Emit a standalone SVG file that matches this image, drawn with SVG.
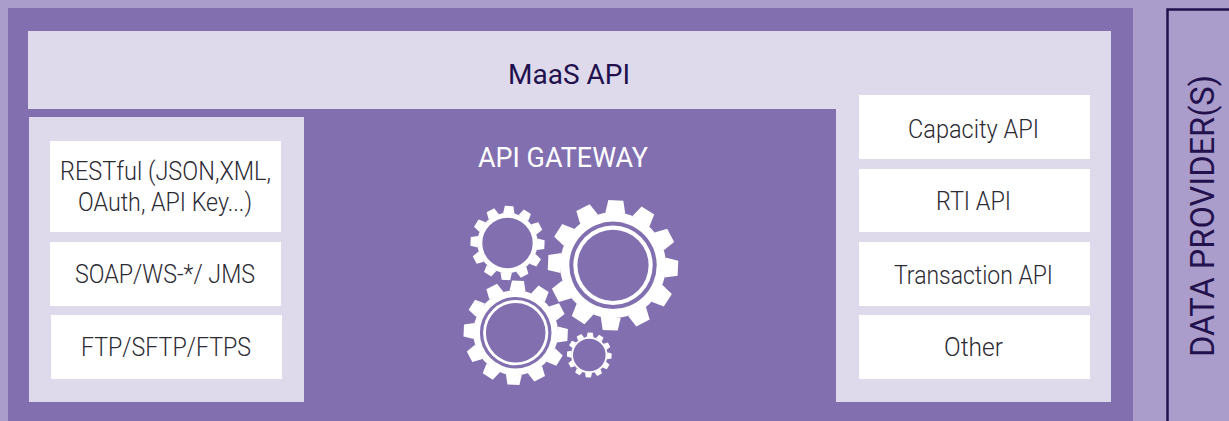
<svg xmlns="http://www.w3.org/2000/svg" width="1229" height="421" viewBox="0 0 1229 421">
<style>
text{font-family:Roboto,"Noto Sans","Liberation Sans",sans-serif;text-anchor:middle;font-size:25px;font-weight:300}
.t{fill:#2c2a33}.d{fill:#22114c;font-weight:400}.w{fill:#fff}.l{fill:#dedaec}.p{fill:#826fb0}
.g{font-weight:400}
</style>
<defs>
<polygon id="tooth" points="-10,-52 -7.500,-65 7.500,-65 10,-52"/>
<g id="gear" fill="#fff">
<circle r="53"/>
<use href="#tooth"/><use href="#tooth" transform="rotate(30)"/><use href="#tooth" transform="rotate(60)"/><use href="#tooth" transform="rotate(90)"/><use href="#tooth" transform="rotate(120)"/><use href="#tooth" transform="rotate(150)"/><use href="#tooth" transform="rotate(180)"/><use href="#tooth" transform="rotate(210)"/><use href="#tooth" transform="rotate(240)"/><use href="#tooth" transform="rotate(270)"/><use href="#tooth" transform="rotate(300)"/><use href="#tooth" transform="rotate(330)"/>
</g>
</defs>
<rect width="1229" height="421" fill="#aa9ccb"/>
<rect class="p" x="8" y="8" width="1125" height="413"/>
<path id="data-provider-frame" d="M1229 9.500H1167.500V421" fill="none" stroke="#22114c" stroke-width="2.500"/>
<g id="data-provider"><text class="d" transform="translate(1214 216) rotate(-90)" style="font-size:33px" textLength="282" lengthAdjust="spacingAndGlyphs">DATA PROVIDER(S)</text></g>
<g id="maas-api">
<path class="l" d="M28 31H1111V402H836V109H28Z"/>
<text class="d" x="569" y="84" style="font-size:28px" textLength="122" lengthAdjust="spacingAndGlyphs">MaaS API</text>
</g>
<g id="client-panel"><rect class="l" x="29" y="117" width="275" height="285"/></g>
<g id="restful"><rect class="w" x="50" y="141" width="231" height="91"/>
<text class="t" x="165.500" y="180" textLength="211" lengthAdjust="spacingAndGlyphs">RESTful (JSON,XML,</text>
<text class="t" x="165" y="211" textLength="174" lengthAdjust="spacingAndGlyphs">OAuth, API Key...)</text></g>
<g id="soap"><rect class="w" x="50" y="242" width="231" height="64"/>
<text class="t" x="165" y="283" textLength="180" lengthAdjust="spacingAndGlyphs">SOAP/WS-*/ JMS</text></g>
<g id="ftp"><rect class="w" x="51" y="315" width="231" height="64"/>
<text class="t" x="166" y="356" textLength="170" lengthAdjust="spacingAndGlyphs">FTP/SFTP/FTPS</text></g>
<g id="capacity-api"><rect class="w" x="859" y="95" width="231" height="64"/>
<text class="t" x="973.500" y="138" textLength="131" lengthAdjust="spacingAndGlyphs">Capacity API</text></g>
<g id="rti-api"><rect class="w" x="859" y="169" width="231" height="63"/>
<text class="t" x="973.500" y="210" textLength="75" lengthAdjust="spacingAndGlyphs">RTI API</text></g>
<g id="transaction-api"><rect class="w" x="859" y="242" width="231" height="64"/>
<text class="t" x="973.500" y="284" textLength="159" lengthAdjust="spacingAndGlyphs">Transaction API</text></g>
<g id="other"><rect class="w" x="859" y="315" width="231" height="64"/>
<text class="t" x="973.500" y="356" textLength="59" lengthAdjust="spacingAndGlyphs">Other</text></g>
<g id="api-gateway">
<text class="w g" x="563" y="167" style="font-size:27px" textLength="170" lengthAdjust="spacingAndGlyphs">API GATEWAY</text>
<use href="#gear" transform="translate(613 265.300) rotate(2.500)"/>
<circle class="p" cx="613" cy="265.300" r="43.700"/><circle class="w" cx="613" cy="265.300" r="39.700"/><circle class="p" cx="613" cy="265.300" r="35.600"/>
<use href="#gear" transform="translate(507.500 243) rotate(2.500) scale(.569)"/>
<circle class="p" cx="507.500" cy="243" r="25.200"/>
<use href="#gear" transform="translate(515.700 332.700) rotate(2.500) scale(.8)"/>
<circle class="p" cx="515.700" cy="332.700" r="35.800"/><circle class="w" cx="515.700" cy="332.700" r="32.600"/><circle class="p" cx="515.700" cy="332.700" r="29.800"/>
<use href="#gear" transform="translate(589.300 355) rotate(2.500) scale(.343)"/>
<circle class="p" cx="589.300" cy="355" r="16.300"/>
</g>
</svg>
